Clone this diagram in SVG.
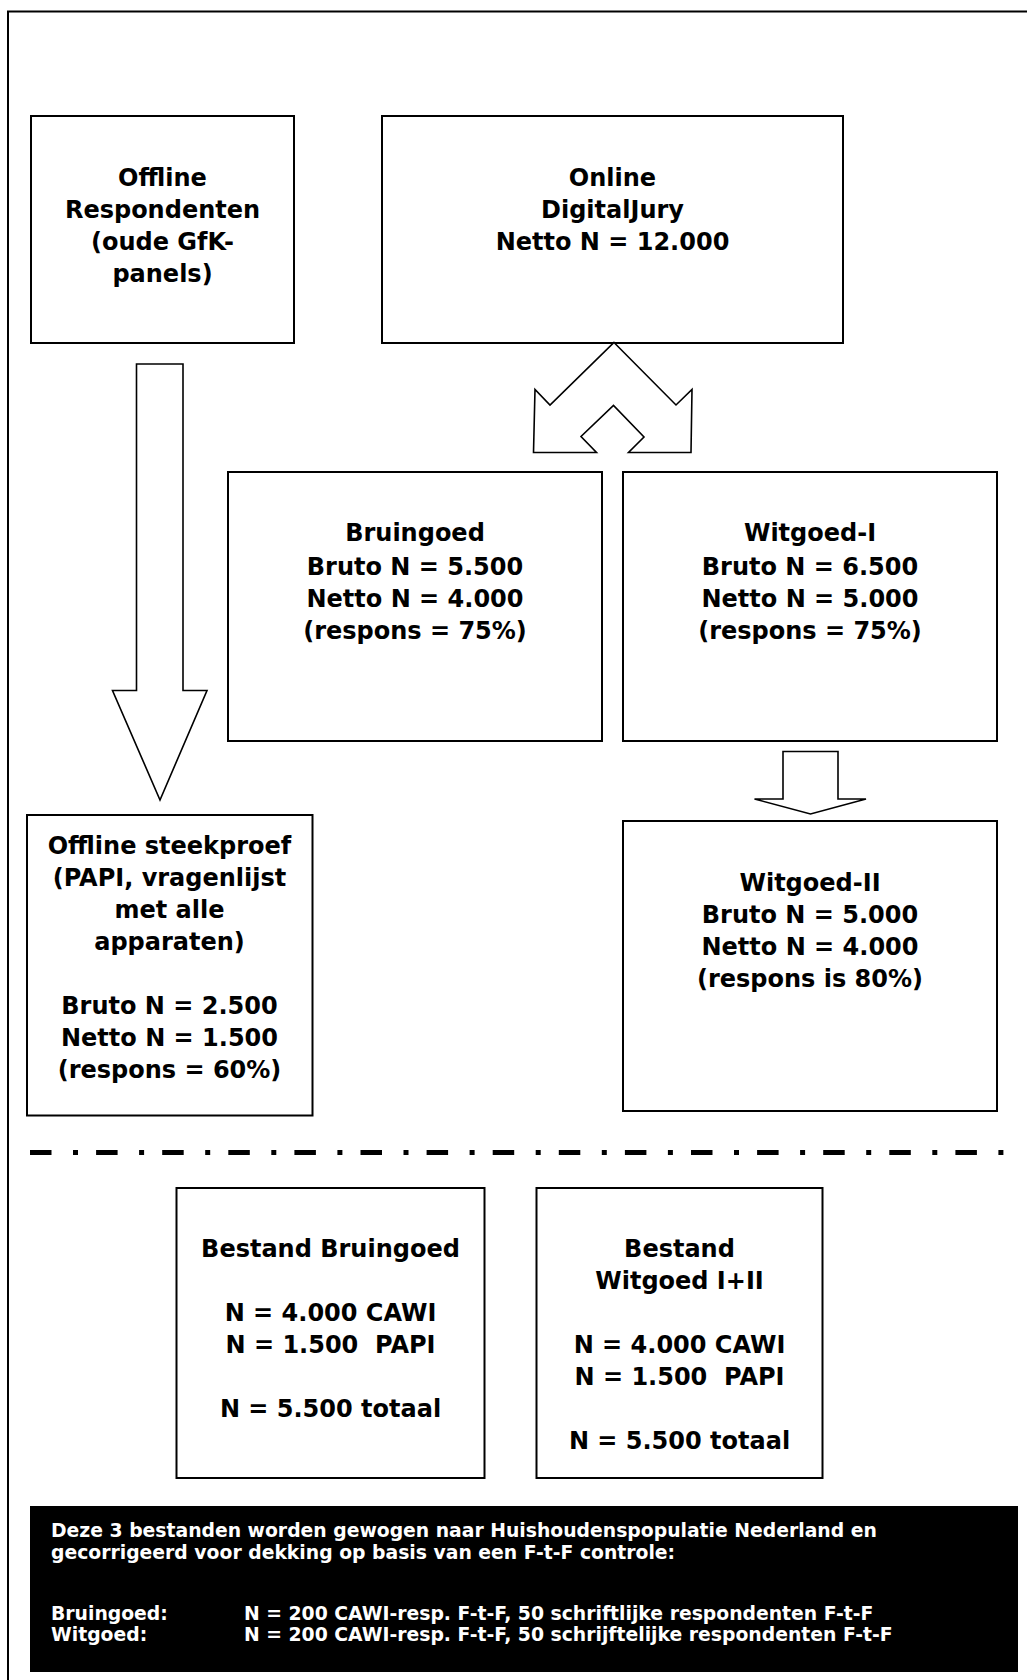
<svg xmlns="http://www.w3.org/2000/svg" width="1027" height="1680" viewBox="0 0 1027 1680">
<style>
.box{fill:#fff;stroke:#000;stroke-width:2}
.arr{fill:#fff;stroke:#000;stroke-width:1.6;stroke-linejoin:miter}
.t{font-family:"DejaVu Sans",Verdana,sans-serif;font-weight:bold;font-size:24px;fill:#000;text-anchor:middle}
.w{font-family:"DejaVu Sans",Verdana,sans-serif;font-weight:bold;font-size:18.8px;fill:#fff}
</style>
<rect x="0" y="0" width="1027" height="1680" fill="#fff"/>
<rect x="8" y="11.5" width="1060" height="1720" fill="none" stroke="#000" stroke-width="2"/>

<g id="offline-respondenten">
<rect class="box" x="31" y="116" width="263" height="227"/>
<text class="t" x="162.5" y="186">Offline</text>
<text class="t" x="162.5" y="218">Respondenten</text>
<text class="t" x="162.5" y="250">(oude GfK-</text>
<text class="t" x="162.5" y="282">panels)</text>
</g>

<g id="online-digitaljury">
<rect class="box" x="382" y="116" width="461" height="227"/>
<text class="t" x="612.5" y="186">Online</text>
<text class="t" x="612.5" y="218">DigitalJury</text>
<text class="t" x="612.5" y="250">Netto N = 12.000</text>
</g>

<g id="bruingoed">
<rect class="box" x="228" y="472" width="374" height="269"/>
<text class="t" x="415" y="541">Bruingoed</text>
<text class="t" x="415" y="574.5">Bruto N = 5.500</text>
<text class="t" x="415" y="606.5">Netto N = 4.000</text>
<text class="t" x="415" y="638.5">(respons = 75%)</text>
</g>

<g id="witgoed-1">
<rect class="box" x="623" y="472" width="374" height="269"/>
<text class="t" x="810" y="541">Witgoed-I</text>
<text class="t" x="810" y="574.5">Bruto N = 6.500</text>
<text class="t" x="810" y="606.5">Netto N = 5.000</text>
<text class="t" x="810" y="638.5">(respons = 75%)</text>
</g>

<g id="offline-steekproef">
<rect class="box" x="27" y="815" width="285.5" height="300.5"/>
<text class="t" x="169.5" y="854">Offline steekproef</text>
<text class="t" x="169.5" y="886">(PAPI, vragenlijst</text>
<text class="t" x="169.5" y="918">met alle</text>
<text class="t" x="169.5" y="950">apparaten)</text>
<text class="t" x="169.5" y="1014">Bruto N = 2.500</text>
<text class="t" x="169.5" y="1046">Netto N = 1.500</text>
<text class="t" x="169.5" y="1078">(respons = 60%)</text>
</g>

<g id="witgoed-2">
<rect class="box" x="623" y="821" width="374" height="290"/>
<text class="t" x="810" y="890.7">Witgoed-II</text>
<text class="t" x="810" y="922.7">Bruto N = 5.000</text>
<text class="t" x="810" y="954.7">Netto N = 4.000</text>
<text class="t" x="810" y="986.7">(respons is 80%)</text>
</g>

<g id="bestand-bruingoed">
<rect class="box" x="176.5" y="1188" width="308" height="290"/>
<text class="t" x="330.5" y="1257">Bestand Bruingoed</text>
<text class="t" x="330.5" y="1321" xml:space="preserve">N = 4.000 CAWI</text>
<text class="t" x="330.5" y="1353" xml:space="preserve">N = 1.500  PAPI</text>
<text class="t" x="330.5" y="1417">N = 5.500 totaal</text>
</g>

<g id="bestand-witgoed">
<rect class="box" x="536.5" y="1188" width="286" height="290"/>
<text class="t" x="679.5" y="1257">Bestand</text>
<text class="t" x="679.5" y="1289">Witgoed I+II</text>
<text class="t" x="679.5" y="1353" xml:space="preserve">N = 4.000 CAWI</text>
<text class="t" x="679.5" y="1385" xml:space="preserve">N = 1.500  PAPI</text>
<text class="t" x="679.5" y="1449">N = 5.500 totaal</text>
</g>

<g id="weging">
<rect x="30" y="1506" width="988" height="166" fill="#000"/>
<text class="w" x="51" y="1537">Deze 3 bestanden worden gewogen naar Huishoudenspopulatie Nederland en</text>
<text class="w" x="51" y="1558.5">gecorrigeerd voor dekking op basis van een F-t-F controle:</text>
<text class="w" x="51" y="1619.5">Bruingoed:</text>
<text class="w" x="244" y="1619.5">N = 200 CAWI-resp. F-t-F, 50 schriftlijke respondenten F-t-F</text>
<text class="w" x="51" y="1640.5">Witgoed:</text>
<text class="w" x="244" y="1640.5">N = 200 CAWI-resp. F-t-F, 50 schrijftelijke respondenten F-t-F</text>
</g>

<g id="connectors">
<polygon class="arr" points="136.5,364 183,364 183,690.5 207,690.5 160,800 112.5,690.5 136.5,690.5"/>
<polygon class="arr" points="614,342.5 676,405 692,389.5 691,452.5 628.5,452.5 644,437 613.5,405.5 581,436.5 596.5,452.5 533.5,452.5 535,389.5 550,405"/>
<polygon class="arr" points="783,751.5 838,751.5 838,799 866,799 810.5,814 754.5,799 783,799"/>
<line x1="30" y1="1152.5" x2="1006" y2="1152.5" stroke="#000" stroke-width="5" stroke-dasharray="21.5 21.5 5 18.1"/>
</g>
</svg>
